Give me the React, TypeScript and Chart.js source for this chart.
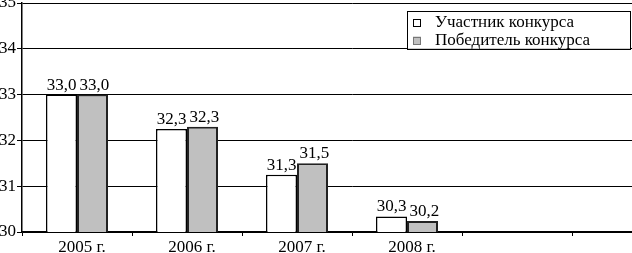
import React, { useEffect, useRef } from 'react';
import { Chart, registerables } from 'chart.js';

Chart.register(...registerables);

const categories = ['2005 г.', '2006 г.', '2007 г.', '2008 г.', '', ''];
const participantValues = [33.0, 32.25, 31.25, 30.34, null, null];
const winnerValues = [33.0, 32.3, 31.5, 30.24, null, null];
const seriesNames = ['Участник конкурса', 'Победитель конкурса'];
const yMin = 30;
const yMax = 35;
const yStep = 1;

const FONT_FAMILY = "'Liberation Serif', serif";
const FONT_SIZE = 17;

const fmt = (v: number) => v.toFixed(1).replace('.', ',');

const valueLabelPlugin = {
  id: 'valueLabels',
  afterDatasetsDraw(chart: any) {
    const ctx = chart.ctx;
    ctx.save();
    ctx.font = `${FONT_SIZE}px ${FONT_FAMILY}`;
    ctx.fillStyle = '#000';
    ctx.textAlign = 'center';
    ctx.textBaseline = 'alphabetic';
    chart.data.datasets.forEach((ds: any, di: number) => {
      const meta = chart.getDatasetMeta(di);
      meta.data.forEach((bar: any, i: number) => {
        const v = ds.data[i];
        if (v == null) return;
        ctx.fillText(fmt(v), bar.x + (di === 0 ? 0 : 2), bar.y - 5);
      });
    });
    ctx.restore();
  },
};

const boxLegendPlugin = {
  id: 'boxLegend',
  afterDraw(chart: any) {
    const ctx = chart.ctx;
    const area = chart.chartArea;
    const yScale = chart.scales.y;
    ctx.save();
    ctx.font = `${FONT_SIZE}px ${FONT_FAMILY}`;
    const names = chart.data.datasets.map((d: any) => d.label);
    const maxW = Math.max(...names.map((n: string) => ctx.measureText(n).width));
    const right = 630;
    const width = 28 + maxW + 40;
    const left = right - width;
    const top = area.top + 8;
    const bottom = yScale.getPixelForValue(34);
    ctx.fillStyle = '#fff';
    ctx.fillRect(left, top, width, bottom - top);
    ctx.strokeStyle = '#000';
    ctx.lineWidth = 1;
    ctx.strokeRect(Math.round(left) + 0.5, Math.round(top) + 0.5, Math.round(width), Math.round(bottom - top));
    const rowH = 17.5;
    chart.data.datasets.forEach((ds: any, i: number) => {
      const cy = top + 12 + i * rowH;
      ctx.fillStyle = ds.backgroundColor;
      ctx.fillRect(left + 6, cy - 4, 8, 8);
      ctx.strokeStyle = i === 0 ? '#000' : '#777';
      ctx.lineWidth = 1;
      ctx.strokeRect(Math.round(left + 6) + 0.5, Math.round(cy - 4) + 0.5, 7, 7);
      ctx.fillStyle = '#000';
      ctx.textAlign = 'left';
      ctx.textBaseline = 'middle';
      ctx.fillText(ds.label, left + 28, cy);
    });
    ctx.restore();
  },
};

export default function App() {
  const ref = useRef<HTMLCanvasElement | null>(null);

  useEffect(() => {
    if (!ref.current) return;
    const font = { family: FONT_FAMILY, size: FONT_SIZE };
    const chart = new Chart(ref.current, {
      type: 'bar',
      data: {
        labels: categories,
        datasets: [
          {
            label: seriesNames[0],
            data: participantValues,
            backgroundColor: '#ffffff',
            borderColor: '#000000',
            borderWidth: 1.5,
            categoryPercentage: 0.5636,
            barPercentage: 1,
          },
          {
            label: seriesNames[1],
            data: winnerValues,
            backgroundColor: '#c0c0c0',
            borderColor: '#222222',
            borderWidth: 2,
            categoryPercentage: 0.5636,
            barPercentage: 1,
          },
        ],
      },
      options: {
        animation: false,
        responsive: false,
        maintainAspectRatio: false,
        layout: { padding: { top: 3, left: 0, right: 0, bottom: 0 } },
        plugins: {
          legend: { display: false },
          tooltip: { enabled: false },
        },
        scales: {
          x: {
            offset: true,
            grid: {
              display: true,
              drawOnChartArea: false,
              drawTicks: true,
              tickLength: 4,
              color: '#000',
              offset: true,
            },
            border: { display: true, color: '#000', width: 1.5 },
            ticks: {
              color: '#000',
              font,
              padding: 1,
              labelOffset: 5,
              maxRotation: 0,
              autoSkip: false,
            },
            afterFit: (s: any) => {
              s.height = 21;
              s.paddingLeft = 0;
              s.paddingRight = 0;
            },
          },
          y: {
            min: yMin,
            max: yMax,
            ticks: { stepSize: yStep, color: '#000', font, padding: 1 },
            grid: { color: '#000', lineWidth: 1, tickLength: 5 },
            border: { display: true, color: '#000', width: 1.5 },
            afterFit: (s: any) => {
              s.width = 22;
              s.paddingTop = 0;
              s.paddingBottom = 0;
            },
          },
        },
      },
      plugins: [valueLabelPlugin, boxLegendPlugin],
    });
    return () => chart.destroy();
  }, []);

  return (
    <div
      style={{
        position: 'absolute',
        left: 0,
        top: 0,
        width: 632,
        height: 253,
        overflow: 'hidden',
        background: '#fff',
      }}
    >
      <canvas ref={ref} width={682} height={253} style={{ width: 682, height: 253, display: 'block' }} />
    </div>
  );
}
